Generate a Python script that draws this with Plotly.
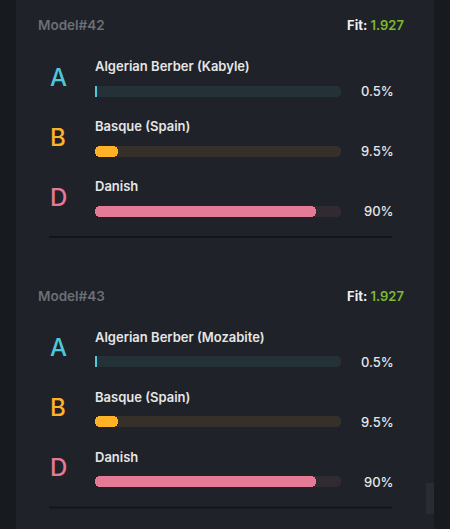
import plotly.graph_objects as go

# ---- data ----
models = ["Model#42", "Model#43"]
fits = [1.927, 1.927]
letters = ["A", "B", "D"]
populations = [
    ["Algerian Berber (Kabyle)", "Basque (Spain)", "Danish"],
    ["Algerian Berber (Mozabite)", "Basque (Spain)", "Danish"],
]
values = [
    [0.5, 9.5, 90],
    [0.5, 9.5, 90],
]
value_labels = [
    ["0.5%", "9.5%", "90%"],
    ["0.5%", "9.5%", "90%"],
]
TRACK_MAX = 100

# ---- style ----
W, H = 450, 529
FONT = "Inter"
fill_colors = {"A": "#4fc8dc", "B": "#ffb228", "D": "#e57a97"}
track_colors = {"A": "#243137", "B": "#35302a", "D": "#302a31"}
BAR_X0, BAR_X1 = 95, 341          # pixel span of 0..100 %
SCALE = (BAR_X1 - BAR_X0) / 100.0
MODEL_STEP = 270.5
ROW_STEP = 60
HEADER_Y = 25
LABEL_Y = 66
BAR_Y = 91
LETTER_Y = 77
SEP_Y = 237

fig = go.Figure()
annotations = []
shapes = []

# card background
shapes.append(dict(type="rect", xref="paper", yref="paper", x0=16 / W, x1=434 / W,
                   y0=0, y1=1, fillcolor="#1f2229", line_width=0, layer="below"))
# scrollbar thumb
shapes.append(dict(type="rect", xref="paper", yref="y", x0=426 / W, x1=434 / W,
                   y0=483, y1=514, fillcolor="#292d33", line_width=0, layer="below"))


def px(xpix):
    return xpix / W


def pill(vals, ys, colors):
    fig.add_trace(go.Bar(x=vals, base=[0] * len(vals), y=ys,
                         orientation="h", width=11,
                         marker=dict(color=colors, cornerradius="50%", line_width=0),
                         hoverinfo="skip", showlegend=False))


for k, model in enumerate(models):
    off = k * MODEL_STEP
    annotations.append(dict(x=px(36), y=HEADER_Y + off, xref="paper", yref="y",
                            text=model, showarrow=False, xanchor="left", yanchor="middle",
                            font=dict(family=FONT, size=13.5, color="#6c6f74", weight=600)))
    annotations.append(dict(x=px(406), y=HEADER_Y + off, xref="paper", yref="y",
                            text=f"<b>Fit:</b> <span style='color:#7cba2e'>{fits[k]:.3f}</span>",
                            showarrow=False, xanchor="right", yanchor="middle",
                            font=dict(family=FONT, size=13, color="#eeeeee", weight=600)))
    ys = [BAR_Y + off + i * ROW_STEP for i in range(len(letters))]
    for i, letter in enumerate(letters):
        annotations.append(dict(x=px(58), y=LETTER_Y + off + i * ROW_STEP, xref="paper", yref="y",
                                text=letter, showarrow=False, xanchor="center", yanchor="middle",
                                font=dict(family=FONT, size=24, color=fill_colors[letter], weight=500)))
        annotations.append(dict(x=px(93), y=LABEL_Y + off + i * ROW_STEP, xref="paper", yref="y",
                                text=populations[k][i], showarrow=False, xanchor="left", yanchor="middle",
                                font=dict(family=FONT, size=13, color="#e6e6e6", weight=600)))
        annotations.append(dict(x=px(396), y=ys[i], xref="paper", yref="y",
                                text=value_labels[k][i], showarrow=False, xanchor="right", yanchor="middle",
                                font=dict(family=FONT, size=13, color="#e6e6e6", weight=500)))
    pill([TRACK_MAX] * len(letters), ys, [track_colors[l] for l in letters])
    pill(values[k], ys, [fill_colors[l] for l in letters])
    shapes.append(dict(type="line", xref="paper", yref="y", x0=px(49), x1=px(392),
                       y0=SEP_Y + off, y1=SEP_Y + off, line=dict(color="#131518", width=2)))

fig.update_layout(
    width=W, height=H, margin=dict(l=0, r=0, t=0, b=0),
    paper_bgcolor="#171a1e", plot_bgcolor="rgba(0,0,0,0)",
    barmode="overlay", bargap=0,
    xaxis=dict(range=[-BAR_X0 / SCALE, (W - BAR_X0) / SCALE], visible=False, fixedrange=True),
    yaxis=dict(range=[H, 0], visible=False, fixedrange=True),
    annotations=annotations, shapes=shapes,
    font=dict(family=FONT),
)

fig.write_html("out.html", config={"displayModeBar": False},
               post_script="document.body.style.margin='0';document.body.style.overflow='hidden';")
